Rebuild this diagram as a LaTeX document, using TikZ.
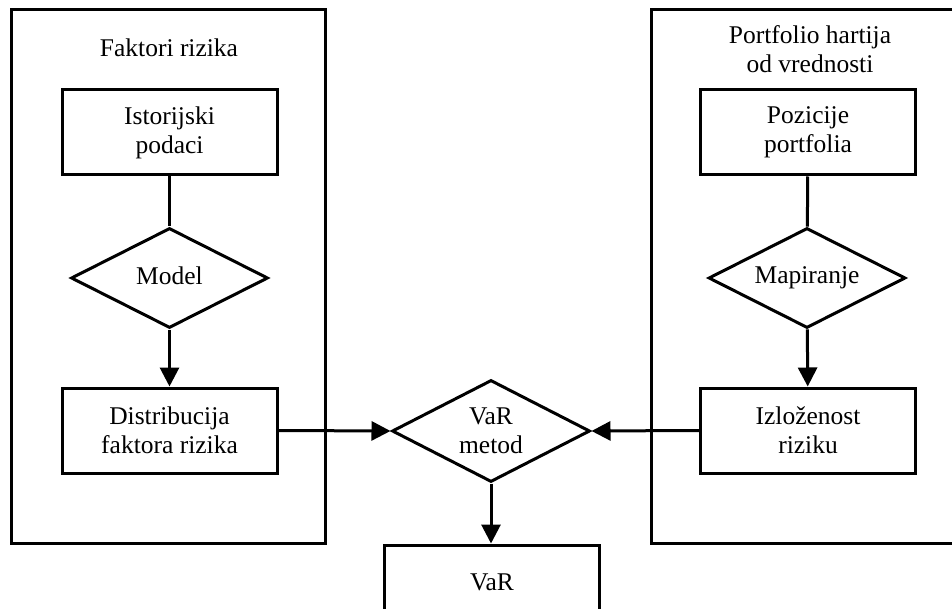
\documentclass[tikz,border=0pt]{standalone}
\usepackage{fontspec}
\setmainfont{Liberation Serif}
\usetikzlibrary{shapes.geometric,arrows.meta}
\begin{document}
\begin{tikzpicture}[x=1pt,y=-1pt,
  every node/.style={font=\fontsize{25.5}{29}\selectfont, align=center},
  frame/.style={draw, line width=3pt, rectangle, inner sep=0pt},
  stepbox/.style={draw, line width=3pt, rectangle, minimum width=215pt, minimum height=85pt, inner sep=0pt},
  choice/.style={draw, line width=3pt, diamond, aspect=2, inner sep=0pt, minimum width=197pt, minimum height=100pt},
  link/.style={line width=3pt},
  flow/.style={line width=3pt, -{Triangle[length=19pt,width=19pt]}},
]
\clip (0,0) rectangle (952,609);

% outer groups
\node[frame, minimum width=314pt, minimum height=533pt] (risk) at (168,276.5) {};
\node[frame, minimum width=314pt, minimum height=533pt] (port) at (808,276.5) {};
\node[anchor=base] (riskT) at (169,57) {Faktori rizika};
\node[anchor=base] (portT) at (810,73) {Portfolio hartija\\od vrednosti};

% left column
\node[stepbox] (hist) at (169.5,132.5) {Istorijski\\podaci};
\node[choice] (model) at (169.5,278) {\raisebox{4pt}{Model}};
\node[stepbox] (dist) at (169.5,430.5) {Distribucija\\faktora rizika};

% right column
\node[stepbox] (pos) at (808,132.5) {Pozicije\\portfolia};
\node[choice] (map) at (807,278) {Mapiranje};
\node[stepbox] (exp) at (808,430.5) {Izloženost\\riziku};

% centre
\node[choice, minimum width=198pt, minimum height=102pt] (method) at (491,431) {VaR\\metod};
\node[stepbox, minimum height=74pt] (var) at (492,582) {VaR};

% connectors
\draw[link] (hist) -- (model);
\draw[flow] (model) -- (dist);
\draw[link] (pos) -- (map);
\draw[flow] (map) -- (exp);
\draw[flow] (dist.east) -- (method.west);
\draw[flow] (exp.west) -- (method.east);
\draw[flow] (method.south) -- (method.south |- var.north);
\end{tikzpicture}
\end{document}
